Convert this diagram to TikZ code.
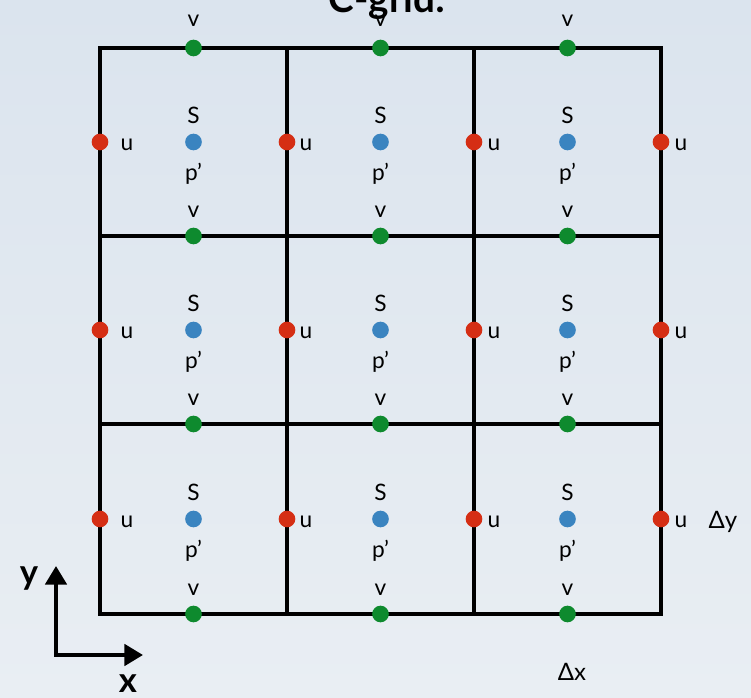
\documentclass[tikz,border=0pt]{standalone}
\usepackage{fontspec}
\setmainfont{Lato}
\usetikzlibrary{arrows.meta}
\definecolor{bgtop}{RGB}{219,228,238}
\definecolor{bgbot}{RGB}{233,238,243}
\definecolor{ured}{RGB}{213,46,20}
\definecolor{vgreen}{RGB}{14,138,46}
\definecolor{pblue}{RGB}{58,132,192}
\begin{document}
\begin{tikzpicture}[x=0.75pt,y=-0.75pt,
  gridline/.style={line width=3pt,black,line join=miter},
  dotbase/.style={circle,inner sep=0pt,minimum size=12.5pt,draw=none},
  udot/.style={dotbase,fill=ured},
  vdot/.style={dotbase,fill=vgreen},
  pdot/.style={dotbase,fill=pblue},
  lab/.style={anchor=base,inner sep=0pt,font=\fontsize{17}{19}\selectfont},
  biglab/.style={anchor=base,inner sep=0pt,font=\bfseries\fontsize{26}{28}\selectfont},
  axisline/.style={line width=3pt,line join=miter,{Triangle[length=14pt,width=16pt]}-{Triangle[length=14pt,width=16pt]}}]
\useasboundingbox (0,0) rectangle (751,698);
\clip (0,0) rectangle (751,698);
\shade[top color=bgtop,bottom color=bgbot] (0,0) rectangle (751,698);
% grid
\coordinate (g00) at (100,48);
\coordinate (g33) at (661,614);
\draw[gridline] (g00) rectangle (g33);
\foreach \gx [count=\i] in {287,474} {
  \coordinate (vt\i) at (\gx,48);
  \coordinate (vb\i) at (\gx,614);
  \draw[gridline] (vt\i) -- (vb\i);
}
\foreach \gy [count=\i] in {236,424} {
  \coordinate (hl\i) at (100,\gy);
  \coordinate (hr\i) at (661,\gy);
  \draw[gridline] (hl\i) -- (hr\i);
}
% v points on horizontal lines
\foreach \c/\X in {1/193.5,2/380.5,3/567.5} {
  \foreach \r/\L/\off in {0/48/21,1/236/18,2/424/18,3/614/18} {
    \node[vdot] (v-\c-\r) at (\X,\L) {};
    \node[lab] (vl-\c-\r) at (\X,\L-\off) {v};
  }
}
% u points on vertical lines
\foreach \k/\X/\off in {0/100/27,1/287/19,2/474/20,3/661/20} {
  \foreach \r/\M in {1/142,2/330,3/519} {
    \node[udot] (u-\k-\r) at (\X,\M) {};
    \node[lab] (ul-\k-\r) at (\X+\off,\M+9) {u};
  }
}
% scalar points at cell centres
\foreach \c/\X in {1/193.5,2/380.5,3/567.5} {
  \foreach \r/\M in {1/142,2/330,3/519} {
    \node[pdot] (p-\c-\r) at (\X,\M) {};
    \node[lab] (s-\c-\r) at (\X,\M-18) {S};
    \node[lab] (pl-\c-\r) at (\X,\M+39) {p'};
  }
}
% title
\node[anchor=base,inner sep=0pt,font=\bfseries\fontsize{29}{32}\selectfont] (title) at (387,13) {C-grid:};
% spacing labels
\node[lab,font=\fontsize{18}{19}\selectfont] (dy) at (723,529) {Δy};
\node[lab,font=\fontsize{18}{19}\selectfont] (dx) at (572,681) {Δx};
% axes
\coordinate (ax0) at (56,655);
\coordinate (axy) at (56,566);
\coordinate (axx) at (143,655);
\draw[axisline] (axy) -- (ax0) -- (axx);
\node[biglab] (ylab) at (29,585) {y};
\node[biglab] (xlab) at (128,693) {x};
\end{tikzpicture}
\end{document}
